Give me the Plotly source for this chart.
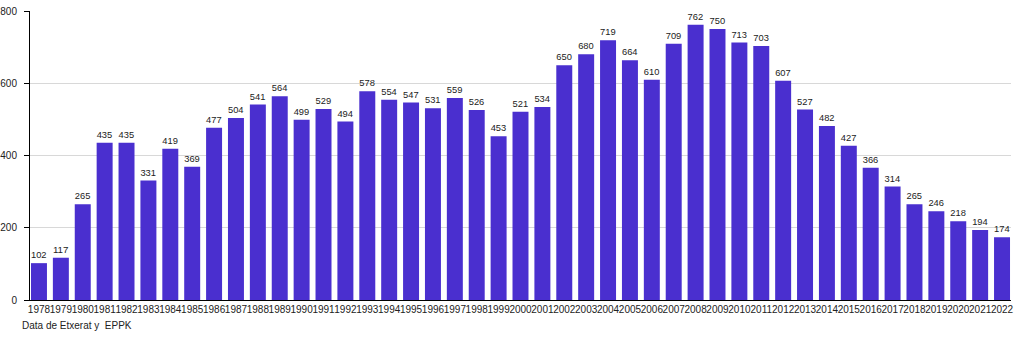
import plotly.graph_objects as go

years = [str(y) for y in range(1978, 2023)]
values = [102, 117, 265, 435, 435, 331, 419, 369, 477, 504, 541, 564, 499, 529, 494,
          578, 554, 547, 531, 559, 526, 453, 521, 534, 650, 680, 719, 664, 610, 709,
          762, 750, 713, 703, 607, 527, 482, 427, 366, 314, 265, 246, 218, 194, 174]
y_ticks = [0, 200, 400, 600, 800]
source_note = "Data de Etxerat y  EPPK"

fig = go.Figure(go.Bar(
    x=years, y=values,
    marker=dict(color="#4a2fcf", line=dict(width=0)),
    text=[str(v) for v in values], textposition="outside",
    textfont=dict(size=10, color="#222222", family="Liberation Sans, Arial, sans-serif"),
    cliponaxis=False,
))

fig.update_layout(
    width=1030, height=340,
    margin=dict(l=30, r=19, t=11, b=40, autoexpand=False),
    plot_bgcolor="white", paper_bgcolor="white",
    bargap=0.27,
    showlegend=False,
    font=dict(family="Liberation Sans, Arial, sans-serif", size=10, color="#222222"),
    xaxis=dict(type="category", range=[-0.41, 44.41], showline=True, linecolor="black",
               linewidth=1, ticks="", tickangle=0, tickfont=dict(size=10), showgrid=False,
               automargin=False),
    yaxis=dict(range=[0, 800], tickvals=y_ticks, showline=True, linecolor="black",
               linewidth=1, ticks="outside", ticklen=5, tickcolor="black",
               ticklabelstandoff=5, automargin=False,
               showgrid=True, gridcolor="#d8d8d8", gridwidth=1, zeroline=False,
               tickfont=dict(size=10)),
    annotations=[dict(text=source_note, xref="paper", yref="paper", x=-10/981, y=-25/289,
                      xanchor="left", yanchor="middle", showarrow=False,
                      font=dict(size=10))],
)

fig.write_html("out.html")
